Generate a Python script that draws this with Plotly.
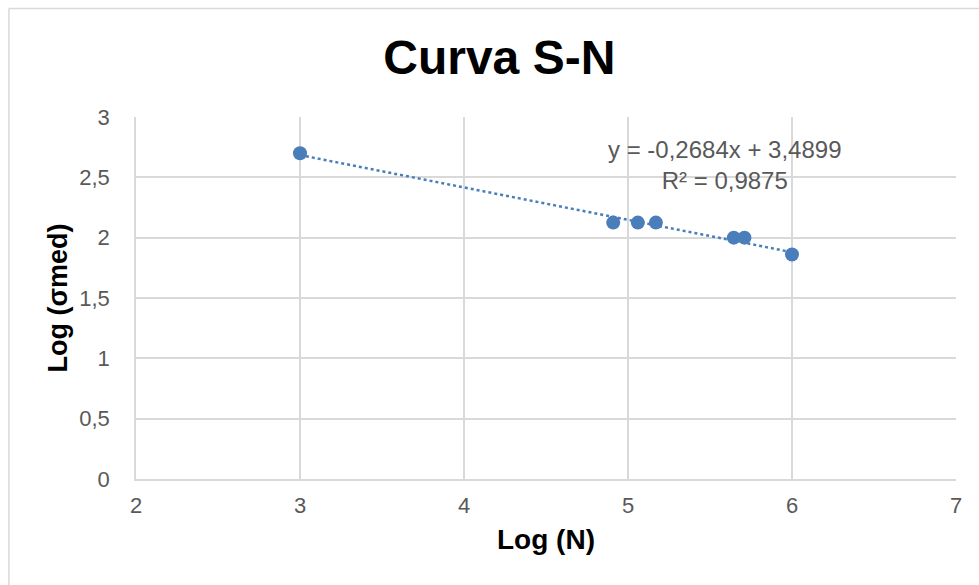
import numpy as np
import plotly.graph_objects as go

log_n = [3.00, 4.91, 5.06, 5.17, 5.645, 5.71, 6.00]
log_sigma = [2.70, 2.125, 2.125, 2.125, 2.00, 2.00, 1.86]
slope = -0.2684
intercept = 3.4899
eq_text = "y = -0,2684x + 3,4899<br>R² = 0,9875"
x_ticks = [2, 3, 4, 5, 6, 7]
y_ticks = [0, 0.5, 1, 1.5, 2, 2.5, 3]
y_tick_labels = ["0", "0,5", "1", "1,5", "2", "2,5", "3"]

color = "#4a7ebb"
FONT = "Liberation Sans, Arial"
trend_x = [min(log_n), max(log_n)]
trend_y = [slope * v + intercept for v in trend_x]

fig = go.Figure()
fig.add_trace(go.Scatter(x=trend_x, y=trend_y, mode="lines",
                         line=dict(color=color, width=2.5, dash="dot"),
                         hoverinfo="skip", showlegend=False))
fig.add_trace(go.Scatter(x=log_n, y=log_sigma, mode="markers",
                         marker=dict(color=color, size=14),
                         showlegend=False))

fig.add_annotation(x=5.59, y=2.60, xref="x", yref="y", text=eq_text,
                   showarrow=False, align="center",
                   font=dict(family=FONT, size=24, color="#595959"))

fig.add_shape(type="line", xref="paper", yref="paper",
              x0=-0.155, x1=-0.155, y0=-0.3, y1=1.30,
              line=dict(color="#d9d9d9", width=1.5))
fig.add_shape(type="line", xref="paper", yref="paper",
              x0=-0.155, x1=1.05, y0=1.30, y1=1.30,
              line=dict(color="#d9d9d9", width=1.5))

fig.update_layout(
    width=979, height=585,
    margin=dict(l=136, r=23, t=117, b=106),
    paper_bgcolor="white", plot_bgcolor="white",
    title=dict(text="<b>Curva S-N</b>", x=0.51, xanchor="center", y=0.903, yanchor="middle",
               font=dict(family=FONT, size=48, color="black")),
    xaxis=dict(range=[2, 7], tickvals=x_ticks, showgrid=True, gridcolor="#d9d9d9", gridwidth=1.5,
               zeroline=False, showline=True, linecolor="#d9d9d9", linewidth=1.5, mirror=False,
               tickfont=dict(family=FONT, size=22, color="#595959"),
               ticks="outside", ticklen=6, tickcolor="white",
               title=dict(text="<b>Log (N)</b>", standoff=12,
                          font=dict(family=FONT, size=28, color="black"))),
    yaxis=dict(range=[0, 3], tickvals=y_ticks, ticktext=y_tick_labels, showgrid=True,
               gridcolor="#d9d9d9", gridwidth=1.5, zeroline=False, showline=True,
               linecolor="#d9d9d9", linewidth=1.5,
               tickfont=dict(family=FONT, size=22, color="#595959"),
               ticks="outside", ticklen=20, tickcolor="white",
               title=dict(text="<b>Log (σmed)</b>", standoff=4,
                          font=dict(family=FONT, size=27, color="black"))),
)

fig.write_html("out.html")
